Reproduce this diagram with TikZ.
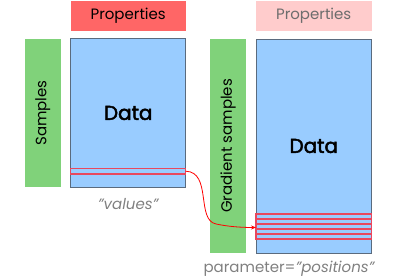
\documentclass[tikz,border=0pt]{standalone}
\usepackage{fontspec}
\setmainfont{Poppins}
\newfontfamily\datafont[FakeBold=2.5]{Poppins}
\usetikzlibrary{arrows.meta}
\definecolor{propred}{HTML}{FF6666}
\definecolor{proppink}{HTML}{FFCCCC}
\definecolor{sampgreen}{HTML}{80D27A}
\definecolor{datablue}{HTML}{99CCFF}
\definecolor{databorder}{HTML}{5A6B7E}
\definecolor{stripred}{HTML}{E8485E}
\definecolor{labgrey}{HTML}{808080}
\begin{document}
\begin{tikzpicture}[x=1pt,y=1pt,
  datab/.style={fill=datablue,draw=databorder,line width=0.8pt},
  strip/.style={draw=stripred,line width=1.1pt},
  lab/.style={font=\fontsize{15}{18}\selectfont,inner sep=0pt},
  glab/.style={font=\fontsize{15}{18}\selectfont,text=labgrey,inner sep=0pt},
  datalab/.style={font=\datafont\fontsize{20}{24}\selectfont,inner sep=0pt}]
\useasboundingbox (0,0) rectangle (400,280);
% left
\path[fill=propred] (70.5,249) rectangle (186,279);
\node[lab] (p1) at (128.2,264) {Properties};
\path[fill=sampgreen] (24.5,93) rectangle (61,241);
\node[lab,rotate=90] (s1) at (42.7,167) {Samples};
\path[datab] (70.7,93) rectangle (185.7,241.3);
\node[datalab] (d1) at (128.2,167) {Data};
\draw[strip] (70.7,106) rectangle (185.7,111.5);
\coordinate (a1) at (185.7,108.8);
\node[glab] (v1) at (128.2,76) {\itshape "values"};
% right
\path[fill=proppink] (256,249) rectangle (371.5,279);
\node[lab,text=labgrey!85!black] (p2) at (313.7,264) {Properties};
\path[fill=sampgreen] (210,27) rectangle (246.3,240.7);
\node[lab,rotate=90] (s2) at (228.2,134) {Gradient samples};
\path[datab] (256,27) rectangle (371.7,240.7);
\node[datalab] (d2) at (313.8,134) {Data};
\foreach \yy in {41,46,51,56,61}{
  \draw[strip] (256,\yy) rectangle (371.2,\yy+5);
}
\coordinate (a2) at (256,52.5);
\node[glab] (v2) at (289,11) {\upshape parameter=\itshape "positions"};
% arrow
\draw[red,line width=0.8pt,-{Stealth[length=5pt,width=4pt]}] (a1) .. controls (212,108) and (196,60) .. (216,56) .. controls (228,53.5) and (240,52.5) .. (a2);
\end{tikzpicture}
\end{document}
